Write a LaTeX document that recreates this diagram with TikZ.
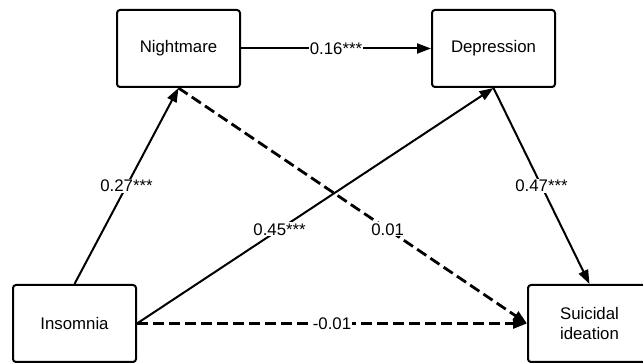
\documentclass[tikz,border=0pt]{standalone}
\usepackage{fontspec}
\setmainfont{Liberation Sans}
\usetikzlibrary{arrows.meta}
\tikzset{
  var/.style={draw,line width=1pt,rounded corners=1.5pt,fill=white,minimum width=61.5pt,minimum height=38.5pt,align=center,font=\fontsize{8.4}{9.6}\selectfont},
  path/.style={line width=1pt,-{Triangle[length=7pt,width=5pt]}},
  nspath/.style={path,line width=1.4pt,dash pattern=on 5.5pt off 2.5pt},
  coef/.style={fill=white,inner sep=0.6pt,font=\fontsize{8.4}{9.6}\selectfont}
}
\begin{document}
\begin{tikzpicture}[x=0.5pt,y=-0.5pt]
\useasboundingbox (0,0) rectangle (643,363);
\node[var] (nightmare) at (178.5,48.5) {Nightmare};
\node[var] (depression) at (493.5,48.5) {Depression};
\node[var] (insomnia) at (74.5,323.5) {Insomnia};
\node[var] (suicidal) at (589.5,323.5) {Suicidal\\ideation};
\draw[path] (nightmare.east)--(depression.west) node[coef,pos=0.5] {0.16***};
\draw[path] (insomnia.north)--(nightmare.south) node[coef,pos=0.5] {0.27***};
\draw[path] (insomnia.east)--(depression.south) node[coef,pos=0.4] {0.45***};
\draw[path] (depression.south)--(suicidal.north) node[coef,pos=0.5] {0.47***};
\draw[nspath] (nightmare.south)--(suicidal.west) node[coef,pos=0.6] {0.01};
\draw[nspath] (insomnia.east)--(suicidal.west) node[coef,pos=0.5] {-0.01};
\end{tikzpicture}
\end{document}
